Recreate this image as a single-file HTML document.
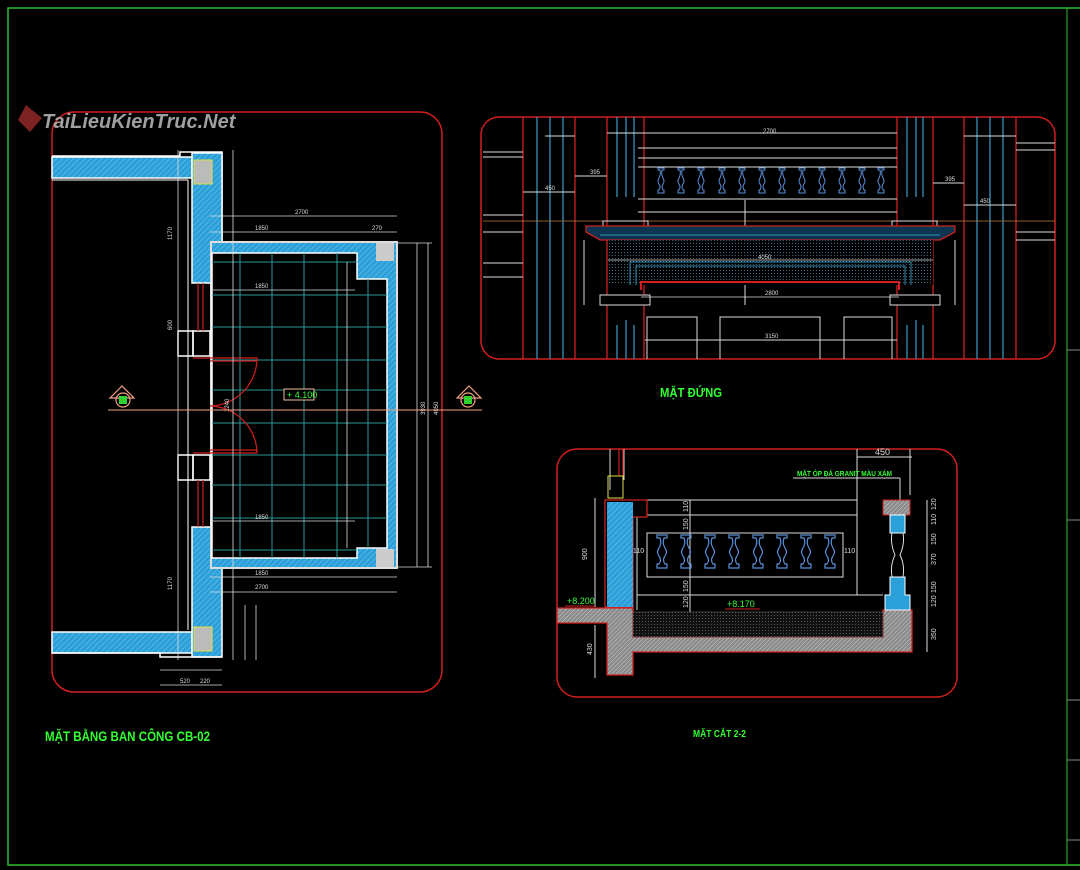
<!DOCTYPE html>
<html><head><meta charset="utf-8"><style>
html,body{margin:0;padding:0;background:#000;}
svg{display:block;}
text{font-family:"Liberation Sans Narrow","Liberation Sans","Noto Sans CJK SC",sans-serif;}
</style></head><body>
<svg width="1080" height="870" viewBox="0 0 1080 870" xmlns="http://www.w3.org/2000/svg">
<defs>
<pattern id="hb" width="4" height="4" patternUnits="userSpaceOnUse" patternTransform="rotate(45)">
<rect width="4" height="4" fill="#2a9fd8"/><line x1="0" y1="0" x2="0" y2="4" stroke="#7cc8f0" stroke-width="1"/></pattern>
<pattern id="hg" width="3" height="3" patternUnits="userSpaceOnUse" patternTransform="rotate(45)">
<rect width="3" height="3" fill="#8a8a8a"/><line x1="0" y1="0" x2="0" y2="3" stroke="#d0d0d0" stroke-width="1"/></pattern>
<pattern id="dk" width="3" height="3" patternUnits="userSpaceOnUse">
<rect width="3" height="3" fill="#111"/><rect width="1" height="1" fill="#555"/></pattern>
<pattern id="dt" width="3" height="3" patternUnits="userSpaceOnUse">
<rect width="3" height="3" fill="#000"/><rect width="1" height="1" fill="#3a6f8a"/></pattern>
<g id="bal"><path d="M-3,0 h6 v2 h-2 q-1,4 1,8 q2,3 0,6 q-2,3 0,6 h1 v3 h-6 v-3 h1 q2,-3 0,-6 q-2,-3 0,-6 q2,-4 1,-8 h-2z" fill="none" stroke="#5a8fd8" stroke-width="1"/></g>
<g id="bal2"><path d="M-5,0 h10 v3 h-3 q-2,5 1,10 q3,4 0,8 q-3,4 0,8 h2 v4 h-10 v-4 h2 q3,-4 0,-8 q-3,-4 0,-8 q3,-5 1,-10 h-3z" fill="none" stroke="#5a8fd8" stroke-width="1.2"/></g>
</defs>

<rect x="8" y="8" width="1100" height="857" fill="none" stroke="#2fbf2f" stroke-width="1.5"/>
<line x1="1067" y1="8" x2="1067" y2="865" stroke="#2fbf2f" stroke-width="1"/>
<g stroke="#888" stroke-width="1"><line x1="1067" y1="350" x2="1080" y2="350"/><line x1="1067" y1="520" x2="1080" y2="520"/><line x1="1067" y1="700" x2="1080" y2="700"/><line x1="1067" y1="760" x2="1080" y2="760"/><line x1="1067" y1="840" x2="1080" y2="840"/></g>

<rect x="52" y="112" width="390" height="580" rx="22" fill="none" stroke="#d02020" stroke-width="1.5"/>
<g stroke="#fff" stroke-width="1.5">
<path d="M52,156 H180 V152 H222 V283 H210 V240" fill="none"/>
<rect x="52" y="157" width="140" height="21" fill="url(#hb)"/>
<rect x="192" y="153" width="30" height="130" fill="url(#hb)"/>
<rect x="52" y="632" width="140" height="21" fill="url(#hb)"/>
<rect x="192" y="527" width="30" height="130" fill="url(#hb)"/>
<path d="M52,653 H160 V657 H222" fill="none"/>
</g>
<rect x="194" y="160" width="18" height="24" fill="#bbb" stroke="#e0e040"/>
<rect x="194" y="627" width="18" height="24" fill="#bbb" stroke="#e0e040"/>
<line x1="52" y1="180" x2="188" y2="180" stroke="#fff"/><line x1="188" y1="180" x2="188" y2="630" stroke="#fff"/>
<rect x="210" y="241" width="188" height="328" fill="#ddd"/>
<rect x="212" y="243" width="184" height="324" fill="url(#hb)"/>
<path d="M212,253 H357 V279 H387 V548 H357 V558 H212Z" fill="#000" stroke="#fff" stroke-width="1.5"/>
<rect x="376" y="243" width="18" height="18" fill="#ccc"/>
<rect x="376" y="549" width="18" height="18" fill="#ccc"/>
<g stroke="#2a9a9a" stroke-width="1">
<line x1="240" y1="253" x2="240" y2="558"/><line x1="272" y1="253" x2="272" y2="558"/><line x1="304" y1="253" x2="304" y2="558"/><line x1="337" y1="253" x2="337" y2="558"/><line x1="368" y1="279" x2="368" y2="548"/>
<line x1="212" y1="262" x2="357" y2="262"/><line x1="212" y1="295" x2="387" y2="295"/><line x1="212" y1="327" x2="387" y2="327"/><line x1="212" y1="360" x2="387" y2="360"/><line x1="212" y1="390" x2="387" y2="390"/><line x1="212" y1="423" x2="387" y2="423"/><line x1="212" y1="455" x2="387" y2="455"/><line x1="212" y1="485" x2="387" y2="485"/><line x1="212" y1="518" x2="387" y2="518"/><line x1="212" y1="550" x2="357" y2="550"/>
</g>
<g stroke="#fff" stroke-width="1.5" fill="none">
<rect x="178" y="331" width="15" height="25"/><rect x="193" y="331" width="17" height="25"/>
<rect x="178" y="455" width="15" height="25"/><rect x="193" y="455" width="17" height="25"/>
</g>
<g stroke="#d02020" stroke-width="1.2" fill="none">
<line x1="198" y1="283" x2="198" y2="331"/><line x1="203" y1="283" x2="203" y2="331"/>
<line x1="198" y1="480" x2="198" y2="527"/><line x1="203" y1="480" x2="203" y2="527"/>
<path d="M193,358 H257 V361 H210"/><path d="M257,360 A48,48 0 0 1 210,406"/>
<path d="M193,453 H257 V450 H210"/><path d="M257,452 A48,48 0 0 0 210,406"/>
</g>
<g stroke="#ddd" stroke-width="0.8" fill="none">
<line x1="178" y1="150" x2="178" y2="660"/><line x1="233" y1="150" x2="233" y2="660"/>
<line x1="347" y1="262" x2="347" y2="548"/><line x1="417" y1="243" x2="417" y2="567"/><line x1="428" y1="243" x2="428" y2="567"/>
<line x1="210" y1="216" x2="397" y2="216"/><line x1="210" y1="232" x2="397" y2="232"/>
<line x1="210" y1="577" x2="397" y2="577"/><line x1="210" y1="592" x2="397" y2="592"/>
<line x1="210" y1="290" x2="355" y2="290"/><line x1="210" y1="521" x2="355" y2="521"/>
<line x1="160" y1="670" x2="222" y2="670"/><line x1="160" y1="685" x2="222" y2="685"/>
<line x1="245" y1="605" x2="245" y2="660"/><line x1="256" y1="605" x2="256" y2="660"/>
<line x1="398" y1="243" x2="432" y2="243"/><line x1="398" y1="567" x2="432" y2="567"/>
</g>
<g fill="#ddd" font-size="6">
<text x="295" y="214">2700</text><text x="255" y="230">1850</text><text x="372" y="230">270</text>
<text x="255" y="288">1850</text><text x="255" y="519">1850</text>
<text x="255" y="589">2700</text><text x="255" y="575">1850</text>
<text x="172" y="330" transform="rotate(-90 172 330)">600</text>
<text x="172" y="240" transform="rotate(-90 172 240)">1170</text>
<text x="172" y="590" transform="rotate(-90 172 590)">1170</text>
<text x="229" y="412" transform="rotate(-90 229 412)">1240</text>
<text x="425" y="415" transform="rotate(-90 425 415)">3930</text>
<text x="438" y="415" transform="rotate(-90 438 415)">4050</text>
<text x="180" y="683">520</text><text x="200" y="683">220</text>
</g>
<line x1="108" y1="410" x2="482" y2="410" stroke="#f0a080" stroke-width="1"/>
<g stroke="#f0a080" fill="none" stroke-width="1.2">
<path d="M110,398 L122,386 L134,398Z"/><circle cx="123" cy="400" r="7"/>
<path d="M457,398 L469,386 L481,398Z"/><circle cx="468" cy="400" r="7"/>
</g>
<rect x="119" y="396" width="8" height="8" fill="#2fd02f"/><rect x="464" y="396" width="8" height="8" fill="#2fd02f"/>
<rect x="284" y="389" width="30" height="11" fill="#000" stroke="#f0c0a0"/>
<text x="287" y="398" fill="#3f3" font-size="9">+ 4.100</text>
<text x="42" y="128" fill="#bbb" font-size="20" font-weight="bold" font-style="italic" opacity="0.85">TaiLieuKienTruc.Net</text>
<path d="M26,105 L42,118 L30,132 L18,120Z" fill="#b03030" opacity="0.7"/>
<text x="45" y="741" fill="#3f3" font-size="14" font-weight="bold" textLength="165" lengthAdjust="spacingAndGlyphs">MẶT BẰNG BAN CÔNG CB-02</text>

<rect x="481" y="117" width="574" height="242" rx="18" fill="none" stroke="#d02020" stroke-width="1.5"/>
<g stroke="#d02020" stroke-width="1.3">
<line x1="523" y1="117" x2="523" y2="359"/><line x1="575" y1="117" x2="575" y2="359"/><line x1="607" y1="117" x2="607" y2="359"/><line x1="644" y1="117" x2="644" y2="359"/>
<line x1="897" y1="117" x2="897" y2="359"/><line x1="933" y1="117" x2="933" y2="359"/><line x1="964" y1="117" x2="964" y2="359"/><line x1="1016" y1="117" x2="1016" y2="359"/>
</g>
<g stroke="#3a8fb8" stroke-width="1.3">
<line x1="537" y1="117" x2="537" y2="359"/><line x1="550" y1="117" x2="550" y2="359"/><line x1="563" y1="117" x2="563" y2="359"/>
<line x1="977" y1="117" x2="977" y2="359"/><line x1="990" y1="117" x2="990" y2="359"/><line x1="1003" y1="117" x2="1003" y2="359"/>
<line x1="617" y1="117" x2="617" y2="197"/><line x1="626" y1="117" x2="626" y2="197"/><line x1="634" y1="117" x2="634" y2="197"/>
<line x1="907" y1="117" x2="907" y2="197"/><line x1="916" y1="117" x2="916" y2="197"/><line x1="923" y1="117" x2="923" y2="197"/>
<line x1="617" y1="325" x2="617" y2="359"/><line x1="626" y1="320" x2="626" y2="359"/><line x1="634" y1="325" x2="634" y2="359"/>
<line x1="907" y1="325" x2="907" y2="359"/><line x1="916" y1="320" x2="916" y2="359"/><line x1="923" y1="325" x2="923" y2="359"/>
</g>
<g stroke="#ddd" stroke-width="1">
<line x1="483" y1="152" x2="523" y2="152"/><line x1="483" y1="157" x2="523" y2="157"/>
<line x1="483" y1="215" x2="523" y2="215"/><line x1="483" y1="232" x2="523" y2="232"/><line x1="483" y1="263" x2="523" y2="263"/><line x1="483" y1="277" x2="523" y2="277"/>
<line x1="1016" y1="143" x2="1055" y2="143"/><line x1="1016" y1="150" x2="1055" y2="150"/><line x1="1016" y1="232" x2="1055" y2="232"/><line x1="1016" y1="240" x2="1055" y2="240"/>
</g>
<line x1="483" y1="221" x2="1055" y2="221" stroke="#c08040" stroke-width="0.8"/>
<g stroke="#ddd" stroke-width="1">
<line x1="638" y1="148" x2="897" y2="148"/><line x1="638" y1="158" x2="897" y2="158"/><line x1="638" y1="167" x2="897" y2="167"/>
<line x1="638" y1="199" x2="897" y2="199"/><line x1="638" y1="212" x2="897" y2="212"/>
<line x1="545" y1="136" x2="575" y2="136"/><line x1="607" y1="133" x2="897" y2="133"/><line x1="964" y1="136" x2="1016" y2="136"/>
<line x1="523" y1="192" x2="575" y2="192"/><line x1="575" y1="176" x2="607" y2="176"/><line x1="933" y1="183" x2="964" y2="183"/><line x1="964" y1="205" x2="1016" y2="205"/>
<line x1="745" y1="200" x2="745" y2="305"/>
</g>
<g transform="translate(0,168)">
<use href="#bal" x="661"/><use href="#bal" x="681"/><use href="#bal" x="701"/><use href="#bal" x="722"/><use href="#bal" x="742"/><use href="#bal" x="762"/><use href="#bal" x="782"/><use href="#bal" x="802"/><use href="#bal" x="822"/><use href="#bal" x="842"/><use href="#bal" x="862"/><use href="#bal" x="881"/>
</g>
<rect x="603" y="221" width="45" height="5" fill="none" stroke="#ddd"/><rect x="892" y="221" width="45" height="5" fill="none" stroke="#ddd"/>
<path d="M586,226 H955 V232 L940,240 H600 L586,232Z" fill="#0d3550" stroke="#d02020" stroke-width="1.3"/>
<line x1="600" y1="235" x2="940" y2="235" stroke="#3a8fb8"/>
<rect x="608" y="240" width="325" height="45" fill="url(#dt)"/>
<path d="M630,285 V262 H911 V285" fill="none" stroke="#3a8fb8"/>
<path d="M636,285 V266 H905 V285" fill="none" stroke="#3a8fb8"/>
<path d="M641,290 V282 H899 V290" fill="none" stroke="#d02020" stroke-width="2"/>
<line x1="608" y1="260" x2="933" y2="260" stroke="#ddd" stroke-width="0.8"/>
<rect x="600" y="295" width="50" height="10" fill="#000" stroke="#ddd"/><rect x="890" y="295" width="50" height="10" fill="#000" stroke="#ddd"/>
<line x1="641" y1="297" x2="899" y2="297" stroke="#ddd" stroke-width="0.8"/>
<g stroke="#ddd" fill="none" stroke-width="1">
<path d="M647,359 V317 H697 V359"/><path d="M720,359 V317 H820 V359"/><path d="M844,359 V317 H892 V359"/>
<line x1="645" y1="340" x2="897" y2="340"/>
<line x1="584" y1="240" x2="584" y2="305"/><line x1="955" y1="240" x2="955" y2="305"/>
</g>
<g fill="#ddd" font-size="6">
<text x="763" y="133">2700</text><text x="758" y="259">4050</text><text x="765" y="295">2800</text><text x="765" y="338">3150</text><text x="545" y="190">450</text><text x="980" y="203">450</text>
<text x="590" y="174">395</text><text x="945" y="181">395</text>
</g>
<text x="660" y="397" fill="#3f3" font-size="13" font-weight="bold" textLength="62" lengthAdjust="spacingAndGlyphs">MẶT ĐỨNG</text>

<rect x="557" y="449" width="400" height="248" rx="20" fill="none" stroke="#d02020" stroke-width="1.5"/>
<g stroke="#ddd" fill="none" stroke-width="1">
<line x1="610" y1="449" x2="610" y2="490"/><line x1="624" y1="449" x2="624" y2="480"/>
<line x1="647" y1="500" x2="857" y2="500"/><line x1="647" y1="515" x2="857" y2="515"/>
<line x1="637" y1="595" x2="883" y2="595"/><line x1="637" y1="515" x2="637" y2="610"/>
<line x1="857" y1="449" x2="857" y2="595"/><line x1="910" y1="449" x2="910" y2="495"/>
<rect x="647" y="533" width="196" height="44"/>
<line x1="595" y1="498" x2="595" y2="607"/><line x1="595" y1="625" x2="595" y2="678"/>
<line x1="927" y1="500" x2="927" y2="652"/><line x1="690" y1="500" x2="690" y2="612"/>
<line x1="857" y1="457" x2="912" y2="457"/><line x1="793" y1="478" x2="900" y2="478"/><line x1="900" y1="478" x2="900" y2="500"/>
</g>
<g stroke="#d02020" fill="none" stroke-width="1.2"><line x1="619" y1="449" x2="619" y2="476"/><line x1="623" y1="449" x2="623" y2="476"/></g>
<rect x="608" y="476" width="15" height="22" fill="none" stroke="#e0e040"/>
<path d="M605,500 H647 V517 H633 V607 H605Z" fill="#000" stroke="#d02020" stroke-width="1.3"/>
<rect x="607" y="502" width="26" height="105" fill="url(#hb)"/>
<path d="M557,608 H633 V637 H883 V610 H912 V652 H633 V675 H607 V623 H557Z" fill="url(#hg)" stroke="#d02020" stroke-width="1.3"/>
<rect x="633" y="612" width="250" height="25" fill="url(#dk)" stroke="#666" stroke-width="0.5"/>
<rect x="883" y="500" width="27" height="15" fill="url(#hg)" stroke="#d02020"/>
<rect x="890" y="515" width="15" height="18" fill="#2a9fd8" stroke="#fff"/>
<path d="M890,577 H905 V595 H910 V610 H885 V595 H890Z" fill="#2a9fd8" stroke="#fff"/>
<path d="M892,533 q-2,10 3,22 q-5,10 -3,22 M903,533 q2,10 -3,22 q5,10 3,22" fill="none" stroke="#ddd"/>
<g transform="translate(0,535)">
<use href="#bal2" x="662"/><use href="#bal2" x="686"/><use href="#bal2" x="710"/><use href="#bal2" x="734"/><use href="#bal2" x="758"/><use href="#bal2" x="782"/><use href="#bal2" x="806"/><use href="#bal2" x="830"/>
</g>
<g fill="#ddd" font-size="7">
<text x="875" y="455" font-size="9">450</text>
<text x="587" y="560" transform="rotate(-90 587 560)">900</text>
<text x="592" y="655" transform="rotate(-90 592 655)">430</text>
<text x="936" y="510" transform="rotate(-90 936 510)">120</text><text x="936" y="525" transform="rotate(-90 936 525)">110</text>
<text x="936" y="545" transform="rotate(-90 936 545)">150</text><text x="936" y="565" transform="rotate(-90 936 565)">370</text>
<text x="936" y="593" transform="rotate(-90 936 593)">150</text><text x="936" y="607" transform="rotate(-90 936 607)">120</text>
<text x="936" y="640" transform="rotate(-90 936 640)">350</text>
<text x="688" y="512" transform="rotate(-90 688 512)">110</text><text x="688" y="530" transform="rotate(-90 688 530)">150</text>
<text x="688" y="592" transform="rotate(-90 688 592)">150</text><text x="688" y="608" transform="rotate(-90 688 608)">120</text>
<text x="633" y="553">110</text><text x="844" y="553">110</text>
</g>
<text x="797" y="476" fill="#3f3" font-size="7" font-weight="bold" textLength="95" lengthAdjust="spacingAndGlyphs">MẶT ÓP ĐÁ GRANIT MÀU XÁM</text>
<text x="567" y="604" fill="#3f3" font-size="9">+8.200</text><line x1="565" y1="606" x2="595" y2="606" stroke="#d02020"/>
<text x="727" y="607" fill="#3f3" font-size="9">+8.170</text><line x1="725" y1="609" x2="760" y2="609" stroke="#d02020"/>
<text x="693" y="737" fill="#3f3" font-size="10" font-weight="bold" textLength="53" lengthAdjust="spacingAndGlyphs">MẶT CẮT 2-2</text>
</svg>
</body></html>
